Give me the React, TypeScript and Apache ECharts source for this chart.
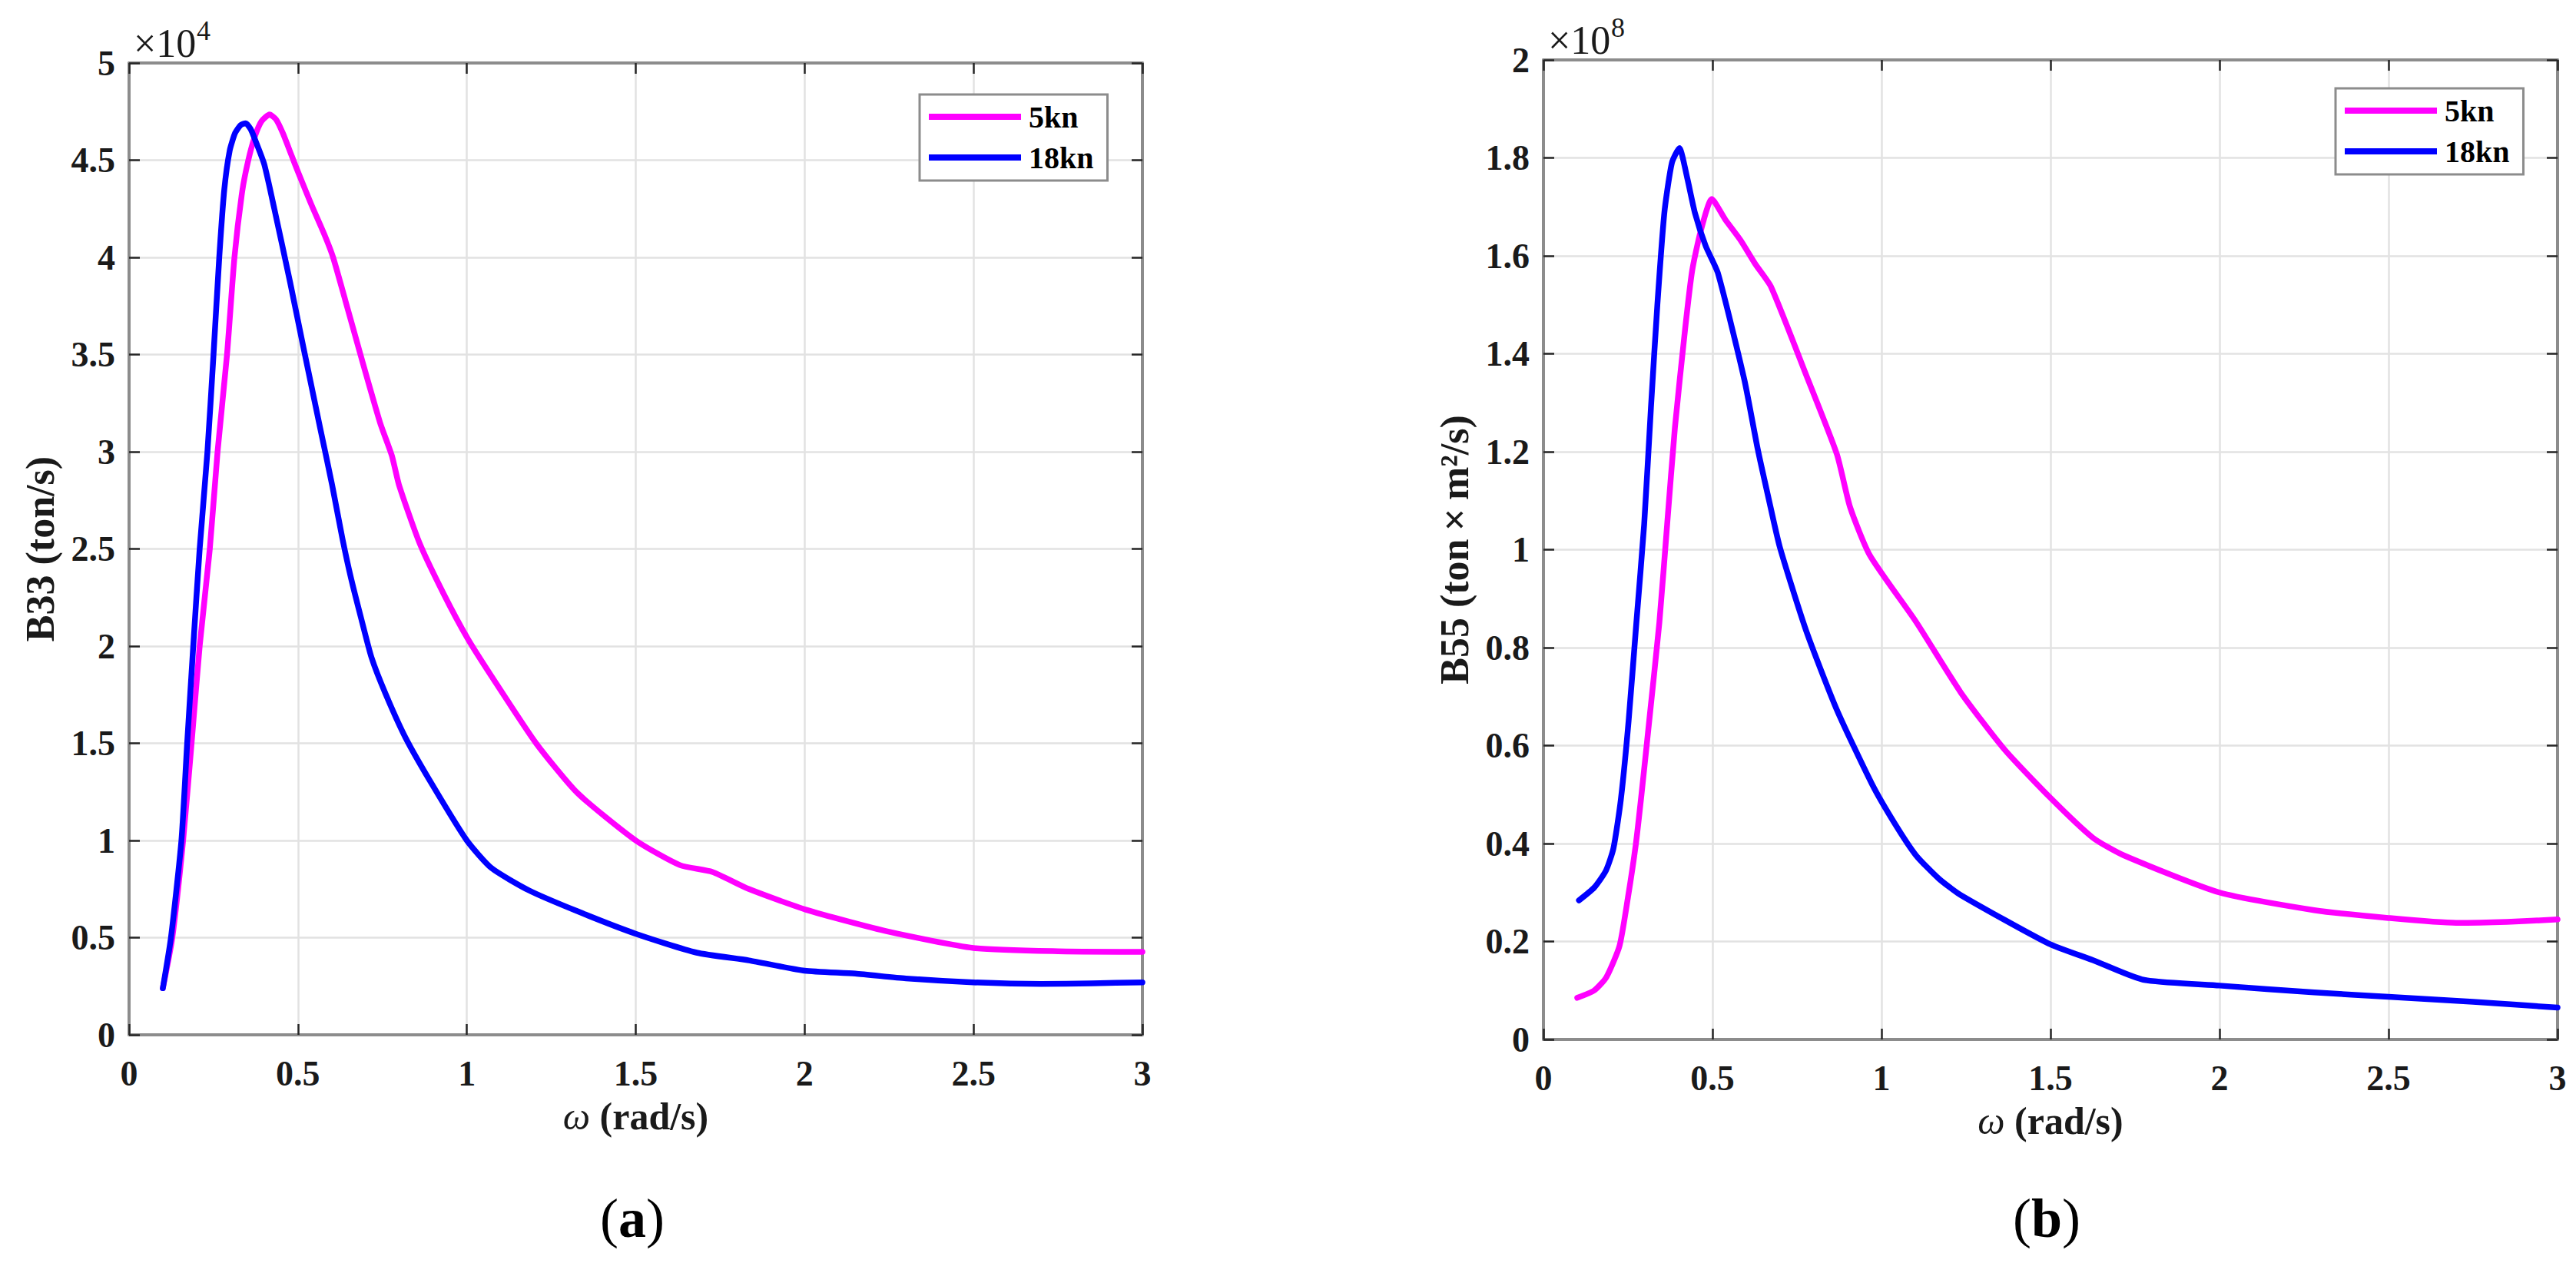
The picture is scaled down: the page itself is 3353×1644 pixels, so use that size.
import React, { useEffect, useRef } from "react";
import * as echarts from "echarts";

// ---------- data (a): B33, values in units of 1e4 ton/s ----------
const omegaA5kn = [0.1, 0.128, 0.16, 0.185, 0.209, 0.239, 0.262, 0.29, 0.312, 0.335, 0.353, 0.372, 0.392, 0.416, 0.435, 0.455, 0.482, 0.5, 0.54, 0.58, 0.604, 0.64, 0.685, 0.743, 0.778, 0.799, 0.86, 0.931, 1.002, 1.073, 1.205, 1.327, 1.5, 1.631, 1.727, 1.834, 2.004, 2.25, 2.5, 2.75, 3.0];
const b33_5kn = [0.24, 0.5, 1.0, 1.5, 2.0, 2.5, 3.0, 3.5, 4.0, 4.34, 4.5, 4.62, 4.70, 4.735, 4.71, 4.64, 4.52, 4.44, 4.27, 4.11, 4.0, 3.78, 3.5, 3.15, 2.98, 2.83, 2.53, 2.27, 2.04, 1.845, 1.5, 1.245, 1.0, 0.873, 0.838, 0.751, 0.644, 0.53, 0.447, 0.43, 0.427];

const omegaA18kn = [0.1, 0.124, 0.155, 0.172, 0.19, 0.209, 0.232, 0.25, 0.267, 0.282, 0.298, 0.314, 0.33, 0.345, 0.36, 0.372, 0.4, 0.43, 0.477, 0.517, 0.566, 0.601, 0.632, 0.657, 0.6875, 0.718, 0.759, 0.819, 0.9, 1.0, 1.073, 1.184, 1.327, 1.5, 1.68, 1.835, 2.0, 2.15, 2.3, 2.5, 2.7, 2.85, 3.0];
const b33_18kn = [0.24, 0.5, 1.0, 1.5, 2.0, 2.5, 3.0, 3.5, 4.0, 4.35, 4.55, 4.64, 4.68, 4.69, 4.66, 4.61, 4.48, 4.25, 3.87, 3.53, 3.12, 2.83, 2.55, 2.35, 2.14, 1.94, 1.756, 1.527, 1.28, 1.0, 0.858, 0.743, 0.636, 0.52, 0.423, 0.383, 0.33, 0.315, 0.29, 0.27, 0.262, 0.265, 0.27];

// ---------- data (b): B55, values in units of 1e8 ton*m^2/s ----------
const omegaB5kn = [0.1, 0.15, 0.186, 0.225, 0.25, 0.273, 0.29, 0.313, 0.343, 0.366, 0.389, 0.419, 0.44, 0.465, 0.498, 0.538, 0.583, 0.627, 0.673, 0.777, 0.868, 0.907, 0.966, 1.102, 1.234, 1.364, 1.5, 1.625, 1.716, 2.0, 2.28, 2.5, 2.7, 2.85, 3.0];
const b55_5kn = [0.085, 0.1, 0.127, 0.191, 0.29, 0.397, 0.5, 0.651, 0.852, 1.052, 1.25, 1.45, 1.57, 1.65, 1.716, 1.674, 1.632, 1.583, 1.537, 1.357, 1.195, 1.087, 0.988, 0.853, 0.709, 0.592, 0.493, 0.412, 0.376, 0.3, 0.264, 0.248, 0.238, 0.24, 0.245];

const omegaB18kn = [0.105, 0.15, 0.185, 0.207, 0.229, 0.252, 0.275, 0.298, 0.318, 0.337, 0.358, 0.38, 0.402, 0.425, 0.448, 0.48, 0.516, 0.594, 0.634, 0.666, 0.699, 0.777, 0.868, 0.973, 1.04, 1.102, 1.17, 1.234, 1.494, 1.625, 1.774, 2.0, 2.28, 2.5, 2.75, 3.0];
const b55_18kn = [0.284, 0.31, 0.345, 0.39, 0.49, 0.651, 0.852, 1.052, 1.29, 1.5, 1.69, 1.79, 1.82, 1.76, 1.688, 1.62, 1.565, 1.348, 1.205, 1.105, 1.006, 0.835, 0.673, 0.52, 0.44, 0.376, 0.328, 0.295, 0.196, 0.162, 0.122, 0.11, 0.096, 0.087, 0.077, 0.065];

const seriesNames = ["5kn", "18kn"];
const seriesColors = ["#ff00ff", "#0000ff"];

const xRange = { min: 0, max: 3, interval: 0.5 };
const yRangeA = { min: 0, max: 5, interval: 0.5 };
const yRangeB = { min: 0, max: 2, interval: 0.2 };

const yNameA = "B33 (ton/s)";
const yNameB = "B55 (ton\u2009×\u2009m²/s)";
const exponentA = "4";
const exponentB = "8";

const SERIF = "'Liberation Serif', 'Times New Roman', serif";

const zip = (xs: number[], ys: number[]) => xs.map((x, i) => [x, ys[i]]);

export default function App() {
  const ref = useRef<HTMLDivElement>(null);

  useEffect(() => {
    if (!ref.current) return;
    const chart = echarts.init(ref.current, undefined, { renderer: "svg" });

    const axisLine = { show: true, onZero: false, lineStyle: { color: "#8c8c8c", width: 4 } };
    const axisTick = { show: true, inside: true, length: 14, lineStyle: { color: "#262626", width: 2.5 } };
    const splitLine = { show: true, lineStyle: { color: "#e2e2e2", width: 2.5 } };
    const tickLabel = {
      show: true,
      fontFamily: SERIF,
      fontWeight: "bold" as const,
      fontSize: 46,
      color: "#1a1a1a",
    };
    const fmt = (v: number) => String(parseFloat(v.toFixed(2)));

    const xName = "{i|ω} {n|(rad/s)}";
    const xNameStyle = {
      fontFamily: SERIF,
      fontSize: 50,
      color: "#1a1a1a",
      rich: {
        i: { fontFamily: SERIF, fontStyle: "italic", fontSize: 50, color: "#1a1a1a" },
        n: { fontFamily: SERIF, fontWeight: "bold", fontSize: 50, color: "#1a1a1a" },
      },
    };

    const makeX = (gridIndex: number) => [
      {
        type: "value", gridIndex, position: "bottom", ...xRange,
        axisLine, axisTick, splitLine,
        axisLabel: { ...tickLabel, margin: 27, formatter: fmt },
        name: xName, nameLocation: "middle", nameGap: 81, nameTextStyle: xNameStyle,
      },
      {
        type: "value", gridIndex, position: "top", ...xRange,
        axisLine, axisTick, splitLine: { show: false }, axisLabel: { show: false },
      },
    ];
    const makeY = (gridIndex: number, range: any, name: string) => [
      {
        type: "value", gridIndex, position: "left", ...range,
        axisLine, axisTick, splitLine,
        axisLabel: { ...tickLabel, margin: 18, formatter: fmt },
        name, nameLocation: "middle", nameRotate: 90, nameGap: 90,
        nameTextStyle: { fontFamily: SERIF, fontWeight: "bold", fontSize: 52, color: "#1a1a1a" },
      },
      {
        type: "value", gridIndex, position: "right", ...range,
        axisLine, axisTick, splitLine: { show: false }, axisLabel: { show: false },
      },
    ];

    const lineSeries = (name: string, color: string, data: number[][], xi: number, yi: number) => ({
      type: "line", name, color, data, xAxisIndex: xi, yAxisIndex: yi,
      showSymbol: false, symbol: "none", smooth: 0.2,
      lineStyle: { color, width: 7.5, join: "round", cap: "round" }, clip: true,
    });

    const legendCommon = {
      data: seriesNames,
      orient: "vertical",
      icon: "rect",
      itemWidth: 120,
      itemHeight: 8,
      itemGap: 13,
      padding: [9, 18, 10, 12],
      borderColor: "#8c8c8c",
      borderWidth: 3,
      backgroundColor: "#ffffff",
      selectedMode: false,
      textStyle: { fontFamily: SERIF, fontWeight: "bold", fontSize: 40, color: "#000", padding: [0, 0, 0, 5] },
    };

    const expText = (x: number, y: number, t: string, size: number) => ({
      type: "text", x, y, silent: true,
      style: {
        text: t, fontFamily: SERIF, fontSize: size, fill: "#1a1a1a",
        textAlign: "left", textVerticalAlign: "middle", align: "left", verticalAlign: "middle",
      },
    });
    const caption = (x: number, y: number, letter: string) => ({
      type: "text", x, y, silent: true,
      style: {
        text: "({b|" + letter + "})",
        fontFamily: SERIF, fontSize: 72, fill: "#000",
        textAlign: "center", textVerticalAlign: "middle", align: "center", verticalAlign: "middle",
        rich: { b: { fontFamily: SERIF, fontSize: 72, fontWeight: "bold", fill: "#000", color: "#000" } },
      },
    });

    chart.setOption({
      animation: false,
      backgroundColor: "#ffffff",
      grid: [
        { left: 168, top: 82, width: 1319, height: 1265, containLabel: false },
        { left: 2009, top: 78, width: 1320, height: 1275, containLabel: false },
      ],
      xAxis: [...makeX(0), ...makeX(1)],
      yAxis: [...makeY(0, yRangeA, yNameA), ...makeY(1, yRangeB, yNameB)],
      legend: [
        { ...legendCommon, left: 1197, top: 123 },
        { ...legendCommon, left: 3040, top: 115 },
      ],
      series: [
        lineSeries(seriesNames[0], seriesColors[0], zip(omegaA5kn, b33_5kn), 0, 0),
        lineSeries(seriesNames[1], seriesColors[1], zip(omegaA18kn, b33_18kn), 0, 0),
        lineSeries(seriesNames[0], seriesColors[0], zip(omegaB5kn, b55_5kn), 2, 2),
        lineSeries(seriesNames[1], seriesColors[1], zip(omegaB18kn, b55_18kn), 2, 2),
      ],
      graphic: [
        expText(174, 56, "×10", 52),
        expText(256, 40, exponentA, 36),
        expText(2015, 52, "×10", 52),
        expText(2097, 36, exponentB, 36),
        caption(823, 1586, "a"),
        caption(2664, 1586, "b"),
      ],
    });

    return () => chart.dispose();
  }, []);

  return (
    <div
      ref={ref}
      style={{ position: "absolute", left: 0, top: 0, width: 3353, height: 1644, background: "#fff" }}
    />
  );
}
